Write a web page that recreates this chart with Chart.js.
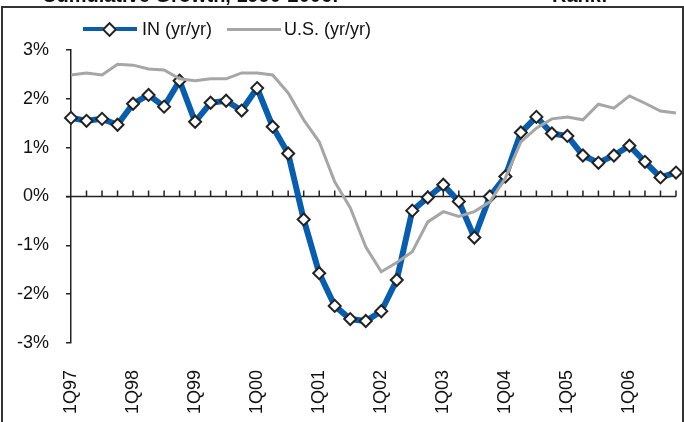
<!DOCTYPE html>
<html>
<head>
<meta charset="utf-8">
<script src="https://cdn.jsdelivr.net/npm/chart.js@4"></script>
<style>
  html, body { margin: 0; padding: 0; background: #fff; }
  #wrap { position: relative; width: 684px; height: 422px; overflow: hidden; font-family: 'Liberation Sans', Arial, sans-serif; }
  #wrap canvas { position: absolute; left: 0; top: 0; }
  .frame { position: absolute; left: 1px; top: 6px; width: 679px; height: 430px; border: 2px solid #333; pointer-events: none; }
  .ttl { position: absolute; top: -16px; font-size: 20px; font-weight: bold; color: #111; white-space: nowrap; }
  .legend { position: absolute; top: 18px; left: 83px; height: 22px; font-size: 18px; color: #111; }
  .legend span { position: absolute; top: 0; white-space: nowrap; line-height: 22px; }
  .ln { position: absolute; height: 4px; }
  .dia { position: absolute; width: 7px; height: 7px; background: #fff; border: 2px solid #222; transform: rotate(45deg); }
</style>
</head>
<body>
<div id="wrap">
  <canvas id="chart" width="684" height="422"></canvas>
  <div class="ttl" style="left:42px">Cumulative Growth, 1990-2006:</div>
  <div class="ttl" style="left:552px">Rank:</div>
  <div class="frame"></div>
  <div class="legend">
    <div class="ln" style="left:0;top:9px;width:54px;background:#0A5DAA"></div>
    <div class="dia" style="left:21px;top:6px"></div>
    <span style="left:59px">IN (yr/yr)</span>
    <div class="ln" style="left:144px;top:10px;width:54px;height:3px;background:#A6A6A6"></div>
    <span style="left:201px">U.S. (yr/yr)</span>
  </div>
</div>
<script>
const quarters = [
  '1Q97','2Q97','3Q97','4Q97','1Q98','2Q98','3Q98','4Q98',
  '1Q99','2Q99','3Q99','4Q99','1Q00','2Q00','3Q00','4Q00',
  '1Q01','2Q01','3Q01','4Q01','1Q02','2Q02','3Q02','4Q02',
  '1Q03','2Q03','3Q03','4Q03','1Q04','2Q04','3Q04','4Q04',
  '1Q05','2Q05','3Q05','4Q05','1Q06','2Q06','3Q06','4Q06'
];
const inGrowth = [
  1.61, 1.55, 1.59, 1.47, 1.90, 2.08, 1.84, 2.37,
  1.53, 1.92, 1.96, 1.76, 2.22, 1.43, 0.88, -0.47,
  -1.57, -2.24, -2.51, -2.55, -2.35, -1.71, -0.29, -0.02,
  0.24, -0.10, -0.84, 0.00, 0.41, 1.31, 1.63, 1.29,
  1.24, 0.84, 0.69, 0.84, 1.04, 0.71, 0.39, 0.49
];
const usGrowth = [
  2.49, 2.53, 2.49, 2.71, 2.69, 2.61, 2.59, 2.41,
  2.37, 2.41, 2.41, 2.53, 2.53, 2.49, 2.12, 1.57,
  1.12, 0.30, -0.23, -1.03, -1.54, -1.35, -1.13, -0.52,
  -0.31, -0.41, -0.31, -0.11, 0.38, 1.12, 1.40, 1.59,
  1.63, 1.57, 1.89, 1.81, 2.06, 1.91, 1.75, 1.71
];
const yTicks = [-3, -2, -1, 0, 1, 2, 3];

const axisColor = '#222';
const font = { family: "'Liberation Sans', Arial, sans-serif", size: 18 };

// zero line with small upward tick marks at every quarter
const zeroAxis = {
  id: 'zeroAxis',
  beforeDatasetsDraw(chart) {
    const { ctx, scales: { x, y }, chartArea } = chart;
    const y0 = y.getPixelForValue(0);
    ctx.save();
    ctx.strokeStyle = axisColor;
    ctx.lineWidth = 1.5;
    ctx.beginPath();
    ctx.moveTo(chartArea.left - 5, y0);
    ctx.lineTo(chartArea.right, y0);
    for (let i = 1; i < quarters.length; i++) {
      const px = x.getPixelForValue(i);
      ctx.moveTo(px, y0);
      ctx.lineTo(px, y0 - 6);
    }
    ctx.stroke();
    ctx.restore();
  }
};

new Chart(document.getElementById('chart'), {
  type: 'line',
  data: {
    labels: quarters,
    datasets: [
      {
        label: 'IN (yr/yr)',
        data: inGrowth,
        borderColor: '#0A5DAA',
        borderWidth: 6,
        pointStyle: 'rectRot',
        pointRadius: 6,
        pointBackgroundColor: '#fff',
        pointBorderColor: '#222',
        pointBorderWidth: 2,
        tension: 0,
        order: 1
      },
      {
        label: 'U.S. (yr/yr)',
        data: usGrowth,
        borderColor: '#A6A6A6',
        borderWidth: 3,
        pointRadius: 0,
        tension: 0,
        order: 0
      }
    ]
  },
  options: {
    responsive: false,
    animation: false,
    layout: { padding: { top: 50, right: 7, left: 0, bottom: 0 } },
    plugins: { legend: { display: false }, tooltip: { enabled: false } },
    scales: {
      x: {
        type: 'category',
        offset: false,
        grid: { display: false },
        border: { display: false },
        ticks: {
          autoSkip: false,
          minRotation: 90,
          maxRotation: 90,
          padding: 19,
          color: '#111',
          font: font,
          callback: (v, i) => (i % 4 === 0 ? quarters[i] : '')
        },
        afterFit: (scale) => {
          scale.height = 79;
          scale.paddingLeft = 0;
          scale.paddingRight = 0;
        }
      },
      y: {
        min: -3,
        max: 3,
        afterBuildTicks: (scale) => { scale.ticks = yTicks.map(v => ({ value: v })); },
        grid: { drawOnChartArea: false, tickLength: 5, color: axisColor, lineWidth: 1.5 },
        border: { color: axisColor, width: 1.5 },
        ticks: { padding: 17, color: '#111', font: font, callback: v => v + '%' },
        afterFit: (scale) => {
          scale.width = 71;
          scale.paddingTop = 0;
          scale.paddingBottom = 0;
        }
      }
    }
  },
  plugins: [zeroAxis]
});
</script>
</body>
</html>
